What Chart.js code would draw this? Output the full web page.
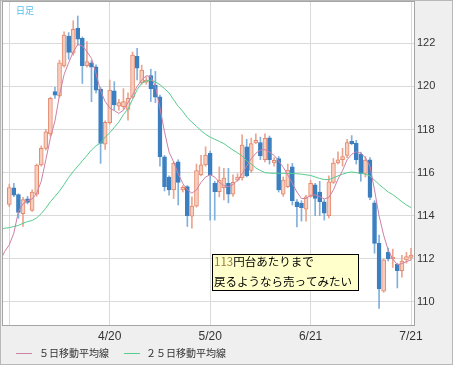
<!DOCTYPE html>
<html>
<head>
<meta charset="utf-8">
<script src="https://cdn.jsdelivr.net/npm/chart.js@4.4.0/dist/chart.umd.min.js"></script>
<style>
  html, body { margin: 0; padding: 0; background: #fff; }
  canvas { display: block; }
</style>
</head>
<body>
<canvas id="chart" width="456" height="368"></canvas>
<script>
// daily candles, index 0 = 3/21 ... 88 = 7/21
const opens = [
  114.53, 115.30, 114.98, 114.10, 114.78, 114.25, 115.00, 116.36, 117.13, 117.80,
  119.76, 119.56, 120.95, 122.34, 121.54, 122.70, 122.23, 120.97, 121.10, 120.91,
  119.88, 117.32, 118.32, 119.80, 119.08, 119.06, 118.94, 119.50, 121.40, 120.17,
  120.20, 120.50, 120.06, 119.52, 116.74, 115.80, 115.20, 116.50, 115.20, 115.35,
  113.98, 114.45, 115.90, 116.36, 116.90, 115.50, 115.12, 115.30, 115.50, 115.00,
  115.65, 115.75, 117.20, 116.10, 117.38, 117.40, 116.60, 117.62, 116.45, 116.65,
  115.00, 115.35, 116.27, 114.65, 114.58, 114.30, 114.90, 115.43, 115.10, 114.65,
  114.00, 115.55, 116.45, 116.60, 116.80, 117.45, 117.36, 116.85, 115.97, 116.60,
  114.60, 112.72, 110.50, 112.30, 112.00, 111.75, 111.45, 111.95, 112.07
];
const highs = [
  115.47, 115.50, 115.02, 114.85, 114.90, 115.20, 116.40, 117.24, 118.00, 119.50,
  119.96, 121.22, 122.54, 122.50, 123.05, 123.27, 122.30, 122.08, 121.20, 121.00,
  119.95, 118.40, 120.30, 120.22, 119.40, 119.90, 119.71, 121.60, 121.77, 120.99,
  120.45, 120.80, 120.70, 119.60, 116.80, 115.85, 116.50, 116.60, 115.40, 115.40,
  114.88, 116.40, 116.80, 117.20, 117.00, 115.60, 116.27, 116.20, 116.20, 115.90,
  115.95, 117.75, 117.55, 117.60, 117.80, 117.65, 117.80, 117.70, 116.70, 116.75,
  115.80, 116.40, 116.43, 114.75, 114.70, 114.95, 115.65, 115.50, 115.60, 114.75,
  115.85, 116.66, 116.97, 117.13, 117.55, 117.72, 117.50, 116.95, 116.75, 116.70,
  114.70, 113.10, 112.00, 112.50, 112.45, 111.80, 112.16, 112.30, 112.49
];
const lows = [
  114.42, 114.88, 113.88, 113.50, 114.55, 114.20, 114.90, 116.30, 117.05, 117.70,
  119.45, 119.50, 120.90, 121.26, 121.45, 121.92, 120.14, 120.90, 119.29, 119.70,
  116.43, 117.08, 118.25, 118.90, 118.90, 118.95, 118.44, 119.45, 120.30, 120.10,
  120.10, 119.30, 119.25, 116.30, 115.15, 114.96, 114.80, 114.50, 115.10, 113.50,
  113.42, 114.40, 115.85, 116.30, 113.80, 113.80, 114.88, 114.73, 114.60, 114.90,
  115.60, 115.65, 115.80, 116.00, 117.35, 116.60, 116.50, 116.40, 116.30, 115.10,
  114.90, 115.30, 114.50, 113.48, 113.75, 113.75, 114.85, 114.00, 114.00, 113.80,
  113.90, 115.50, 116.40, 116.30, 116.70, 117.30, 116.40, 115.60, 115.80, 114.75,
  112.26, 109.70, 110.45, 111.90, 111.60, 110.65, 111.15, 111.80, 111.95
];
const closes = [
  115.31, 114.96, 114.15, 114.75, 114.62, 115.10, 116.35, 117.13, 117.90, 119.45,
  119.60, 121.10, 122.38, 121.58, 122.65, 122.19, 120.96, 121.15, 120.90, 119.83,
  117.36, 118.34, 119.83, 119.14, 119.25, 119.30, 119.45, 121.46, 120.85, 120.76,
  120.30, 119.90, 119.50, 116.74, 115.35, 115.20, 116.45, 115.55, 115.32, 114.00,
  114.45, 116.10, 116.36, 116.82, 115.90, 115.12, 115.65, 115.75, 115.00, 115.55,
  115.80, 117.28, 115.85, 117.35, 117.50, 116.78, 117.59, 116.60, 116.57, 115.20,
  115.65, 116.12, 114.70, 114.42, 114.38, 114.88, 115.50, 114.80, 114.65, 114.12,
  115.58, 116.45, 116.60, 116.75, 117.40, 117.35, 116.60, 115.95, 116.58, 114.85,
  112.72, 110.60, 111.95, 112.00, 112.08, 111.45, 111.90, 112.10, 112.18
];

// moving averages, starting two days before the first candle
const maFirstIndex = -2;
const ma5 = [
  111.90, 112.35,
  112.65, 113.20, 114.20, 114.55, 114.70, 114.78, 115.05, 115.60, 116.60, 117.60,
  118.40, 119.60, 120.55, 121.10, 121.60, 121.95, 121.88, 121.62, 121.30, 120.60,
  119.80, 119.30, 119.00, 118.88, 118.75, 118.90, 119.25, 119.60, 120.00, 120.30,
  120.50, 120.45, 120.00, 119.00, 117.90, 116.95, 116.50, 115.95, 115.50, 115.20,
  115.05, 115.20, 115.55, 115.80, 115.90, 115.80, 115.55, 115.40, 115.35, 115.45,
  115.65, 115.95, 116.30, 116.65, 116.90, 117.05, 117.07, 116.95, 116.80, 116.55,
  116.25, 115.90, 115.50, 115.10, 114.80, 114.80, 114.95, 114.97, 114.88, 114.78,
  114.85, 115.20, 115.70, 116.10, 116.60, 116.85, 116.97, 116.90, 116.70, 116.30,
  115.20, 114.00, 113.10, 112.40, 112.00, 111.72, 111.78, 111.87, 111.95
];
const ma25 = [
  113.38, 113.42,
  113.45, 113.50, 113.55, 113.65, 113.73, 113.78, 113.90, 114.10, 114.35, 114.65,
  114.90, 115.15, 115.45, 115.78, 116.05, 116.30, 116.55, 116.80, 117.05, 117.25,
  117.38, 117.65, 117.85, 118.10, 118.35, 118.70, 118.95, 119.40, 119.85, 120.15,
  120.25, 120.30, 120.22, 120.08, 119.90, 119.70, 119.38, 119.08, 118.85, 118.55,
  118.35, 118.15, 117.95, 117.78, 117.65, 117.55, 117.45, 117.35, 117.20, 117.05,
  116.92, 116.78, 116.55, 116.40, 116.22, 116.10, 116.00, 115.98, 115.97, 115.97,
  115.97, 115.97, 115.96, 115.95, 115.93, 115.90, 115.87, 115.80, 115.73, 115.68,
  115.68, 115.76, 115.85, 115.93, 116.00, 116.03, 116.00, 115.97, 115.93, 115.85,
  115.65, 115.45, 115.28, 115.10, 114.98, 114.82, 114.65, 114.50, 114.38
];

const dateTickIndex = [0, 22, 44, 66, 88];
const dateTickLabels = ['', '4/20', '5/20', '6/21', '7/21'];
const priceTicks = [110, 112, 114, 116, 118, 120, 122];
const seriesNames = ['５日移動平均線', '２５日移動平均線'];
const periodLabel = '日足';
const noteNumber = '113';
const noteLine1 = '円台あたりまで';
const noteLine2 = '戻るようなら売ってみたい';

const UP_BORDER = '#e4896d';
const UP_FILL = '#f7cdbd';
const UP_WICK = '#eba48e';
const DOWN_FILL = '#3c7fc0';
const DOWN_WICK = '#80b0dc';
const MA5_COLOR = '#cf80a6';
const MA25_COLOR = '#56cc8e';
const GRID = '#dadada';
const FRAME = '#a4a4a4';

const isUp = i => closes[i] >= opens[i];

const wickData = highs.map((h, i) => ({ x: i, y: [lows[i], h] }));
const bodyData = opens.map((o, i) => ({ x: i, y: [o, closes[i]] }));
const ma5Data = ma5.map((v, k) => ({ x: k + maFirstIndex, y: v }));
const ma25Data = ma25.map((v, k) => ({ x: k + maFirstIndex, y: v }));

const chrome = {
  id: 'chrome',
  beforeDraw(chart) {
    const { ctx, chartArea: a } = chart;
    ctx.save();
    ctx.fillStyle = '#efefef';
    ctx.fillRect(0, 0, 453, 365);
    ctx.fillStyle = '#ffffff';
    ctx.fillRect(a.left, a.top, a.right - a.left, a.bottom - a.top);
    ctx.restore();
  },
  afterDatasetsDraw(chart) {
    const { ctx } = chart;
    ctx.save();
    // note box
    ctx.fillStyle = '#ffffcc';
    ctx.fillRect(212.5, 254.5, 146, 36);
    ctx.strokeStyle = '#000';
    ctx.lineWidth = 1;
    ctx.strokeRect(212.5, 254.5, 146, 36);
    ctx.font = '11.5px "Noto Sans CJK JP"';
    ctx.textBaseline = 'middle';
    ctx.textAlign = 'left';
    ctx.fillStyle = '#9a7a40';
    ctx.fillText(noteNumber, 214, 262);
    const w = ctx.measureText(noteNumber).width;
    ctx.fillStyle = '#000';
    ctx.fillText(noteLine1, 214 + w, 262);
    ctx.fillText(noteLine2, 214, 281.5);
    ctx.restore();
  },
  afterDraw(chart) {
    const { ctx, chartArea: a } = chart;
    ctx.save();
    ctx.strokeStyle = FRAME;
    ctx.lineWidth = 1;
    ctx.strokeRect(a.left - 0.5, a.top - 0.5, a.right - a.left + 1, a.bottom - a.top + 1);
    ctx.strokeStyle = '#b8b8b8';
    ctx.strokeRect(0.5, 0.5, 452, 364);

    ctx.fillStyle = '#55bde9';
    ctx.font = '9px "Noto Sans CJK JP"';
    ctx.textBaseline = 'middle';
    ctx.fillText(periodLabel, 16, 10.5);

    // legend
    ctx.font = '10px "Noto Sans CJK JP"';
    ctx.fillStyle = '#333';
    const items = [[MA5_COLOR, 16, 39], [MA25_COLOR, 124, 146]];
    items.forEach(([color, lx, tx], k) => {
      ctx.strokeStyle = color;
      ctx.beginPath();
      ctx.moveTo(lx, 353.5);
      ctx.lineTo(lx + 16, 353.5);
      ctx.stroke();
      ctx.fillText(seriesNames[k], tx, 353.5);
    });
    ctx.restore();
  }
};

new Chart(document.getElementById('chart'), {
  type: 'bar',
  data: {
    datasets: [
      {
        type: 'line',
        label: seriesNames[0],
        data: ma5Data,
        borderColor: MA5_COLOR,
        borderWidth: 1,
        pointRadius: 0,
        tension: 0,
        order: 0
      },
      {
        type: 'line',
        label: seriesNames[1],
        data: ma25Data,
        borderColor: MA25_COLOR,
        borderWidth: 1,
        pointRadius: 0,
        tension: 0,
        order: 1
      },
      {
        label: 'body',
        data: bodyData,
        backgroundColor: opens.map((o, i) => isUp(i) ? UP_FILL : DOWN_FILL),
        borderColor: opens.map((o, i) => isUp(i) ? UP_BORDER : DOWN_FILL),
        borderWidth: 1,
        borderSkipped: false,
        barThickness: 4,
        grouped: false,
        order: 2
      },
      {
        label: 'wick',
        data: wickData,
        backgroundColor: highs.map((h, i) => isUp(i) ? UP_WICK : DOWN_WICK),
        barThickness: 1,
        grouped: false,
        order: 3
      }
    ]
  },
  options: {
    responsive: false,
    animation: false,
    devicePixelRatio: 1,
    events: [],
    layout: { padding: { left: 3, top: 2, right: 0, bottom: 23 } },
    plugins: {
      legend: { display: false },
      tooltip: { enabled: false }
    },
    scales: {
      x: {
        type: 'linear',
        min: -1.38,
        max: 88.65,
        bounds: 'data',
        offset: false,
        afterBuildTicks: s => { s.ticks = dateTickIndex.map(v => ({ value: v })); },
        afterFit: s => { s.height = 20; s.paddingLeft = 0; s.paddingRight = 0; },
        grid: { color: GRID, drawTicks: false, offset: false },
        border: { display: false },
        ticks: {
          callback: (v, i) => dateTickLabels[i],
          autoSkip: false,
          maxRotation: 0,
          padding: 4,
          color: '#333',
          font: { family: '"Liberation Sans", Arial, sans-serif', size: 12 }
        }
      },
      y: {
        position: 'right',
        min: 108.93,
        max: 123.92,
        afterBuildTicks: s => { s.ticks = priceTicks.map(v => ({ value: v })); },
        afterFit: s => { s.width = 42; s.paddingTop = 0; s.paddingBottom = 0; },
        grid: { color: GRID, drawTicks: false },
        border: { display: false },
        ticks: {
          padding: 3,
          color: '#333',
          font: { family: '"Liberation Sans", Arial, sans-serif', size: 11 }
        }
      }
    }
  },
  plugins: [chrome]
});
</script>
</body>
</html>
